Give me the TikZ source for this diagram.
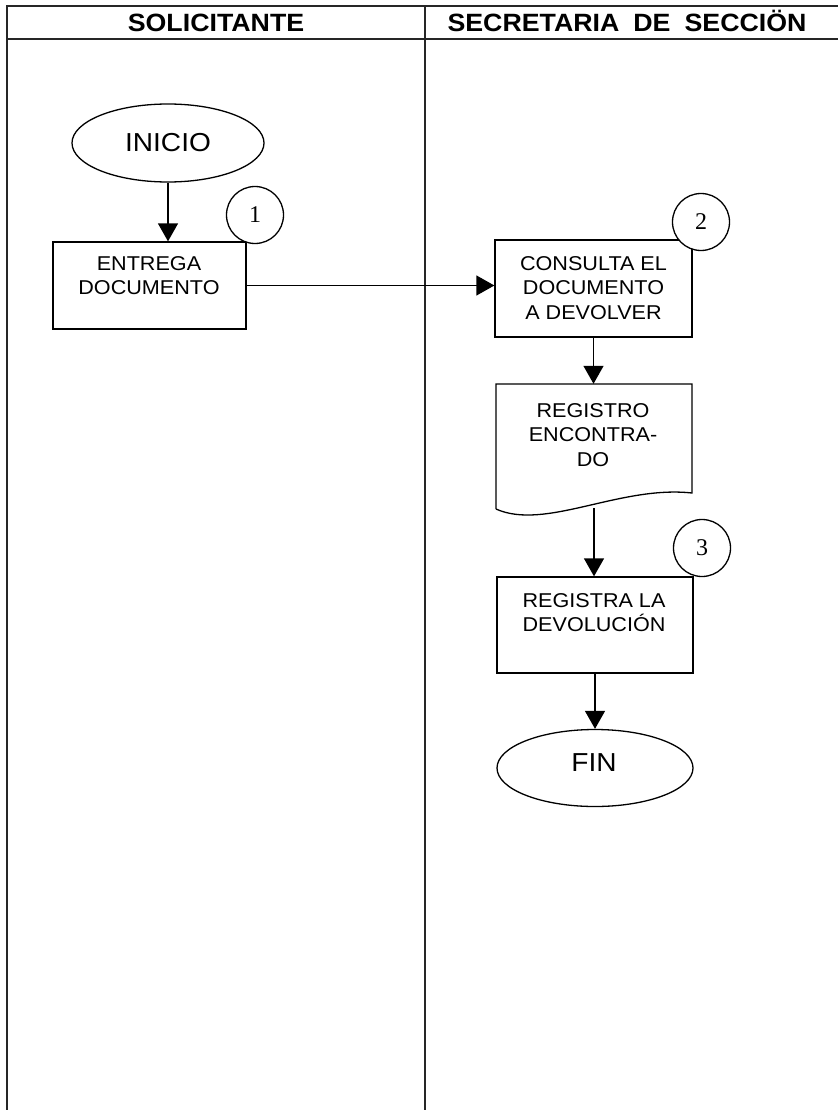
\documentclass[tikz,border=0pt]{standalone}
\usepackage{fontspec}
\setmainfont{Liberation Sans}
\newfontfamily\numfont{Liberation Serif}
\newfontfamily\widesans[FakeStretch=1.08]{Liberation Sans}
\newfontfamily\widehdr[FakeStretch=1.07]{Liberation Sans Bold}
\usetikzlibrary{arrows.meta,shapes.geometric}
\begin{document}
\begin{tikzpicture}[x=1pt,y=-1pt,
  frame/.style={line width=1.5pt, draw=black!85},
  hdr/.style={font=\widehdr\fontsize{25}{30}\selectfont, inner sep=0pt, anchor=base},
  term/.style={ellipse, draw, line width=1.3pt, inner sep=0pt},
  termtext/.style={inner sep=0pt, font=\widesans\fontsize{26}{30}\selectfont},
  procbox/.style={rectangle, draw, line width=1.3pt, inner sep=0pt},
  boxtext/.style={align=center, inner sep=0pt, anchor=north, font=\widesans\fontsize{20}{24.5}\selectfont},
  numc/.style={circle, draw, line width=1.3pt, fill=white, minimum size=57pt, inner sep=0pt, font=\numfont\fontsize{24}{28}\selectfont},
  flow/.style={line width=1.3pt, -{Triangle[length=18pt,width=20pt]}},
  plain/.style={line width=1.3pt}
]
\useasboundingbox (0,0) rectangle (838,1110);
\fill[white] (0,0) rectangle (838,1110);

% frame
\draw[frame] (7,1110) -- (7,6) -- (838,6);
\draw[frame] (7,39) -- (838,39);
\draw[frame] (425,6) -- (425,1110);

\node[hdr] (h1) at (216,32) {SOLICITANTE};
\node[hdr] (h2) at (627,32) {SECRETARIA\hspace{14pt}DE\hspace{14pt}SECCIÖN};

% shapes
\node[term, minimum width=192pt, minimum height=78pt] (inicio) at (168,143) {};
\node[termtext] (iniciot) at (168,142.5) {INICIO};
\node[procbox, minimum width=193pt, minimum height=87pt] (entrega) at (149.5,285.5) {};
\node[boxtext] (entregat) at (149,256) {ENTREGA\\DOCUMENTO};

\node[procbox, minimum width=197pt, minimum height=97pt] (consulta) at (593.5,288.5) {};
\node[boxtext] (consultat) at (593.5,256) {CONSULTA EL\\DOCUMENTO\\A DEVOLVER};

% document shape
\node[minimum width=196pt, minimum height=124pt, inner sep=0pt] (doc) at (594,446) {};
\draw[plain] (496,509) -- (496,384) -- (692,384) -- (692,493)
  .. controls (620,485) and (545,531) .. (496,509);
\node[boxtext] (doct) at (593,403) {REGISTRO\\ENCONTRA-\\DO};

\node[procbox, minimum width=196pt, minimum height=96pt] (registra) at (595,625) {};
\node[boxtext] (registrat) at (594,593) {REGISTRA LA\\DEVOLUCIÓN};

\node[term, minimum width=196pt, minimum height=77pt] (fin) at (595,768) {};
\node[termtext] (fint) at (594,763) {FIN};

% connectors
\draw[flow] (inicio.south) -- (inicio.south |- entrega.north);
\draw[flow] (entrega.east) -- (entrega.east -| consulta.west);
\draw[flow] (consulta.south) -- (consulta.south |- doc.north);
\draw[flow] (doc.south) -- (doc.south |- registra.north);
\draw[flow] (registra.south) -- (fin.north);

% step numbers
\node[numc] (n1) at (255,215) {1};
\node[numc] (n2) at (701,222) {2};
\node[numc] (n3) at (702,548) {3};
\end{tikzpicture}
\end{document}
